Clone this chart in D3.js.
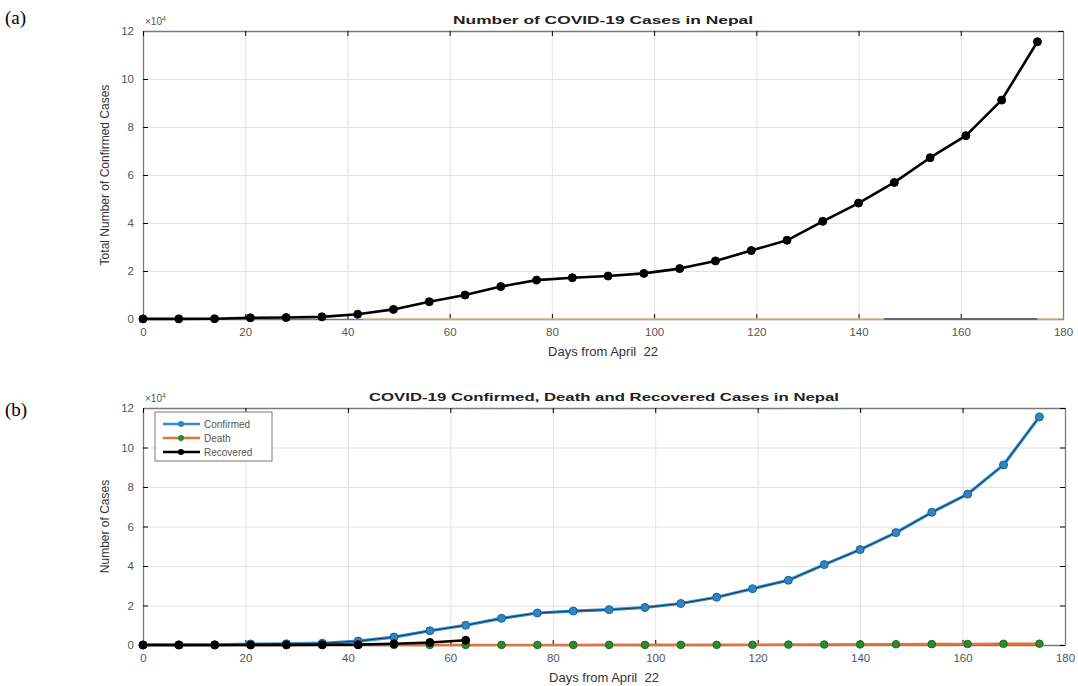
<!DOCTYPE html>
<html>
<head>
<meta charset="utf-8">
<script src="https://cdn.jsdelivr.net/npm/d3@7"></script>
<style>
  body { margin: 0; background: #fff; }
  svg { display: block; font-family: "Liberation Sans", Arial, sans-serif; }
</style>
</head>
<body>
<svg id="chart" width="1078" height="686"></svg>
<script>
// days since April 22 (weekly)
const days = [0, 7, 14, 21, 28, 35, 42, 49, 56, 63, 70, 77, 84, 91, 98, 105, 112, 119, 126, 133, 140, 147, 154, 161, 168, 175];
// cumulative confirmed cases
const confirmed = [45, 57, 99, 500, 600, 900, 2000, 4000, 7200, 10000, 13500, 16200, 17200, 17900, 19000, 21000, 24200, 28500, 32800, 40700, 48300, 56900, 67200, 76400, 91200, 115500];
// deaths
const deaths = [0, 0, 0, 0, 0, 0, 1, 5, 15, 23, 31, 35, 38, 45, 53, 61, 69, 111, 200, 250, 308, 366, 436, 498, 604, 655];
// recovered (only plotted up to day 63)
const recDays = [0, 7, 14, 21, 28, 35, 42, 49, 56, 63];
const recovered = [7, 16, 31, 36, 68, 115, 186, 600, 1300, 2400];
// faint traces lying on the zero line of panel (a)
const faintDays = [43, 180];
const faintVals = [0, 0];
const darkDays = [145, 175];
const darkVals = [0, 0];

const xTicks = [0, 20, 40, 60, 80, 100, 120, 140, 160, 180];
const yTicks = [0, 20000, 40000, 60000, 80000, 100000, 120000];

const svg = d3.select('#chart');

// 一個子圖：座標軸、格線、外框、標題
function drawPanel(p) {
  const x = d3.scaleLinear().domain([0, 180]).range([p.left, p.right]);
  const y = d3.scaleLinear().domain([0, 120000]).range([p.bottom, p.top]);
  const w = p.right - p.left;
  const h = p.bottom - p.top;
  const g = svg.append('g');

  // grid
  g.append('g')
    .attr('transform', `translate(0,${p.bottom})`)
    .call(d3.axisBottom(x).tickValues(xTicks).tickSize(-h).tickFormat(''))
    .call(s => s.select('.domain').remove())
    .selectAll('line').attr('stroke', '#e3e3e3');
  g.append('g')
    .attr('transform', `translate(${p.left},0)`)
    .call(d3.axisLeft(y).tickValues(yTicks).tickSize(-w).tickFormat(''))
    .call(s => s.select('.domain').remove())
    .selectAll('line').attr('stroke', '#e3e3e3');

  // axes with inward ticks (box on all four sides)
  const xa = g.append('g')
    .attr('transform', `translate(0,${p.bottom})`)
    .call(d3.axisBottom(x).tickValues(xTicks).tickSizeInner(-5).tickSizeOuter(0).tickPadding(9));
  const ya = g.append('g')
    .attr('transform', `translate(${p.left},0)`)
    .call(d3.axisLeft(y).tickValues(yTicks).tickSizeInner(-5).tickSizeOuter(0).tickPadding(9)
      .tickFormat(d => d / 10000));
  g.append('g')
    .attr('transform', `translate(0,${p.top})`)
    .call(d3.axisTop(x).tickValues(xTicks).tickSizeInner(-5).tickSizeOuter(0).tickFormat(''));
  g.append('g')
    .attr('transform', `translate(${p.right},0)`)
    .call(d3.axisRight(y).tickValues(yTicks).tickSizeInner(-5).tickSizeOuter(0).tickFormat(''));
  g.selectAll('.domain').attr('stroke', '#7a7a7a').attr('stroke-width', 1.3);
  [xa, ya].forEach(a => a.selectAll('text').attr('fill', '#555').attr('font-size', 11.5));

  // exponent label
  const ex = g.append('text').attr('x', p.left + 2).attr('y', p.top - 6)
    .attr('fill', '#555').attr('font-size', 10).text('\u00d710');
  ex.append('tspan').attr('dy', -4).attr('font-size', 7).text('4');

  // titles
  g.append('text').attr('x', (p.left + p.right) / 2).attr('y', p.top - 7)
    .attr('text-anchor', 'middle').attr('font-weight', 'bold').attr('font-size', 11.5)
    .attr('fill', '#222').attr('textLength', p.titleLen).attr('lengthAdjust', 'spacingAndGlyphs')
    .text(p.title);
  g.append('text').attr('x', (p.left + p.right) / 2).attr('y', p.bottom + 37)
    .attr('text-anchor', 'middle').attr('font-size', 13).attr('fill', '#333')
    .attr('xml:space', 'preserve').text('Days from April  22');
  g.append('text')
    .attr('transform', `translate(${p.left - 34},${(p.top + p.bottom) / 2}) rotate(-90)`)
    .attr('text-anchor', 'middle').attr('font-size', 12).attr('fill', '#333')
    .text(p.yLabel);

  // panel tag
  svg.append('text').attr('x', 5).attr('y', p.tagY)
    .attr('font-family', '"Liberation Serif", "Times New Roman", serif')
    .attr('font-size', 19).attr('fill', '#000').text(p.tag);

  return { x, y, g };
}

function series(ctx, xs, ys, color, width, opacity) {
  const line = d3.line().x((d, i) => ctx.x(xs[i])).y(d => ctx.y(d));
  return ctx.g.append('path').datum(ys)
    .attr('d', line).attr('fill', 'none')
    .attr('stroke', color).attr('stroke-width', width)
    .attr('stroke-opacity', opacity == null ? 1 : opacity)
    .attr('stroke-linejoin', 'round');
}

function markers(ctx, xs, ys, fill, stroke, r) {
  ctx.g.append('g').selectAll('circle').data(ys).join('circle')
    .attr('cx', (d, i) => ctx.x(xs[i])).attr('cy', d => ctx.y(d))
    .attr('r', r).attr('fill', fill).attr('stroke', stroke).attr('stroke-width', 1);
}

// (a)
const a = drawPanel({
  left: 143, right: 1063, top: 31, bottom: 319,
  title: 'Number of COVID-19 Cases in Nepal', titleLen: 300,
  yLabel: 'Total Number of Confirmed Cases', tag: '(a)', tagY: 24
});
series(a, faintDays, faintVals, '#e8b98a', 2, 0.7);
series(a, darkDays, darkVals, '#666', 2, 1);
series(a, days, confirmed, '#000', 2.6);
markers(a, days, confirmed, '#000', '#000', 4);

// (b)
const b = drawPanel({
  left: 143, right: 1065, top: 408, bottom: 645,
  title: 'COVID-19 Confirmed, Death and Recovered Cases in Nepal', titleLen: 470,
  yLabel: 'Number of Cases', tag: '(b)', tagY: 416
});
series(b, days, confirmed, '#2f8fd0', 3.2);
series(b, days, confirmed, '#1b3550', 1);
markers(b, days, confirmed, '#2f86c4', '#1f5f8e', 4);
series(b, days, deaths, '#e2733a', 2.6);
markers(b, days, deaths, '#2d8a2d', '#1f6b1f', 3.8);
series(b, recDays, recovered, '#000', 2.6);
markers(b, recDays, recovered, '#000', '#000', 4);

// legend
const leg = b.g.append('g').attr('transform', 'translate(155,412)');
leg.append('rect').attr('width', 117).attr('height', 49)
  .attr('fill', '#fff').attr('stroke', '#777').attr('stroke-width', 1);
const legItems = [
  { name: 'Confirmed', line: '#2f8fd0', dot: '#2f86c4' },
  { name: 'Death', line: '#e2733a', dot: '#2d8a2d' },
  { name: 'Recovered', line: '#000', dot: '#000' }
];
legItems.forEach((it, i) => {
  const yy = 12 + i * 14;
  leg.append('line').attr('x1', 8).attr('x2', 45).attr('y1', yy).attr('y2', yy)
    .attr('stroke', it.line).attr('stroke-width', 2.5);
  leg.append('circle').attr('cx', 26).attr('cy', yy).attr('r', 3).attr('fill', it.dot);
  leg.append('text').attr('x', 49).attr('y', yy + 3.5).attr('font-size', 10)
    .attr('fill', '#555').text(it.name);
});
</script>
</body>
</html>
